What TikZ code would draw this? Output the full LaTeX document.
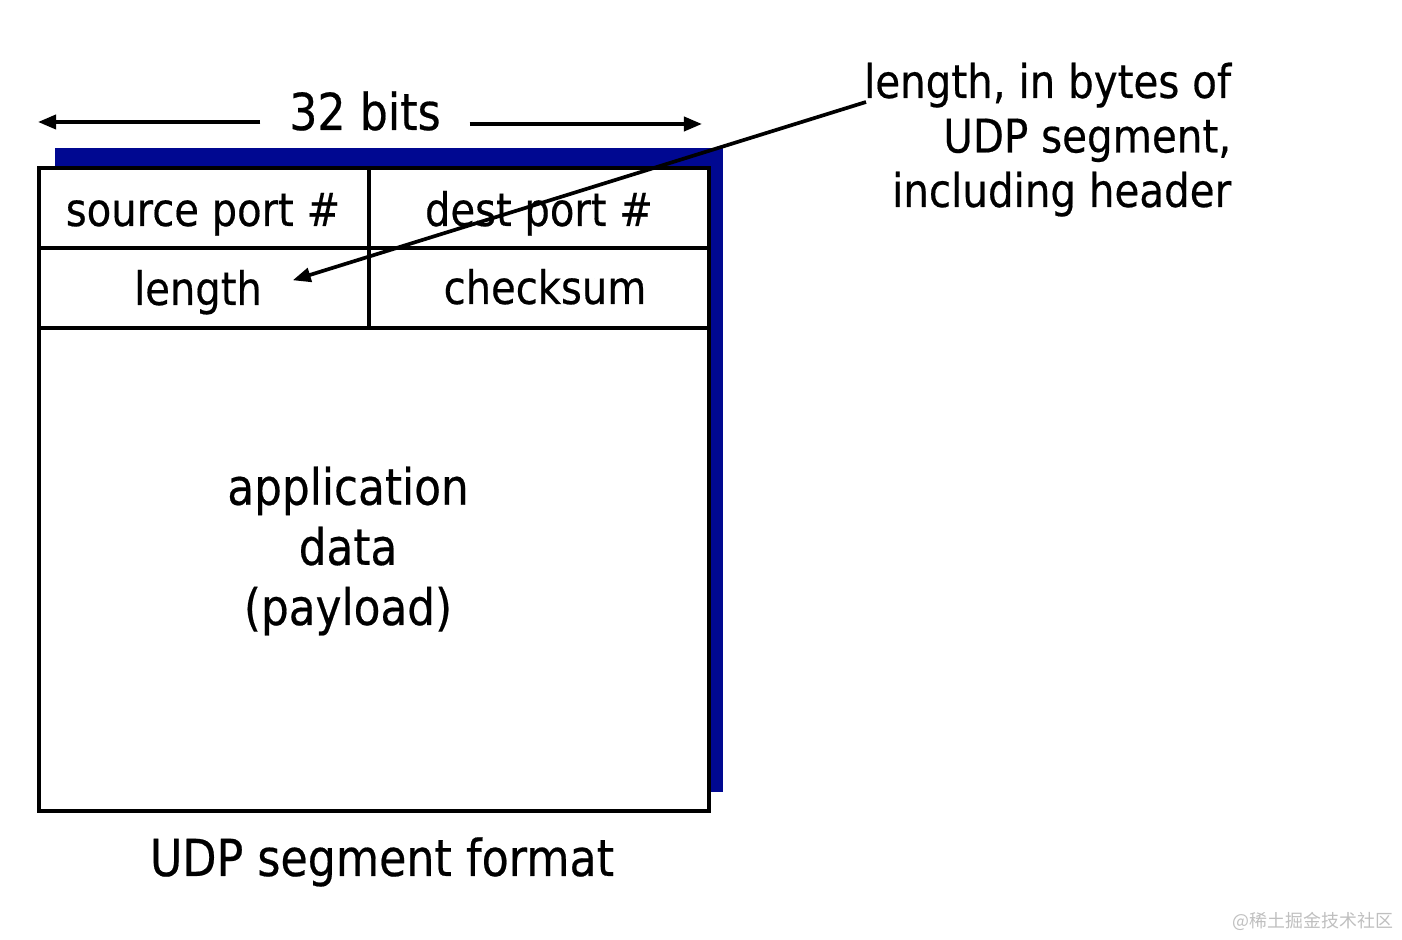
\documentclass[tikz,border=0pt]{standalone}
\usepackage{fontspec}
\setmainfont{DejaVu Sans}[FakeStretch=0.87, FakeBold=0.4]
\newfontfamily\cjkfont{Noto Sans CJK SC}
\usetikzlibrary{arrows.meta}
\definecolor{slideblue}{RGB}{0,8,145}

\begin{document}
\begin{tikzpicture}[x=0.01cm, y=-0.01cm, line width=1.05pt,
	>={Triangle[length=0.18cm,width=0.14cm]},
	field/.style={font=\fontsize{13.1}{15}\selectfont, inner sep=0pt, anchor=base},
	caption/.style={font=\fontsize{14.5}{17}\selectfont, inner sep=0pt, anchor=base}]
	\useasboundingbox (0,0) rectangle (1402,940);
	% segment with its shadow
	\fill[slideblue] (55,148) rectangle (723,792);
	\draw[fill=white] (39,168) rectangle (709,811);
	\draw (39,248) -- (709,248);
	\draw (39,328) -- (709,328);
	\draw (369,168) -- (369,328);
	% header fields
	\node[field] (src) at (203,226) {source port \#};
	\node[field] (dst) at (539,226) {dest port \#};
	\node[field] (len) at (198,305) {length};
	\node[field] (chk) at (545,304) {checksum};
	\node[font=\fontsize{14.3}{17.1}\selectfont, align=center, inner sep=0pt, anchor=base] (data) at (348,625)
		{application\\data\\(payload)};
	% width of the segment
	\node[caption, inner xsep=0.27cm] (bits) at (365,130) {32 bits};
	\coordinate (bitsL) at (38,122);
	\coordinate (bitsR) at (702,124);
	\draw[->] (bits.west |- bitsL) -- (bitsL);
	\draw[->] (bits.east |- bitsR) -- (bitsR);
	\node[caption] (title) at (382,876) {UDP segment format};
	% note on the length field
	\node[font=\fontsize{13.2}{15.5}\selectfont, align=right, inner sep=0pt, anchor=base east] (note) at (1233,207)
		{length, in bytes of\\UDP segment,\\including header};
	\coordinate (tail) at (866,102);
	\draw[->] (tail) -- ([shift={(29,-12)}]len.east);
	\node[font=\cjkfont\fontsize{5.1}{6}\selectfont, text=black!25, inner sep=0pt, anchor=base east] (mark) at (1395,928)
		{@稀土掘金技术社区};
\end{tikzpicture}
\end{document}
